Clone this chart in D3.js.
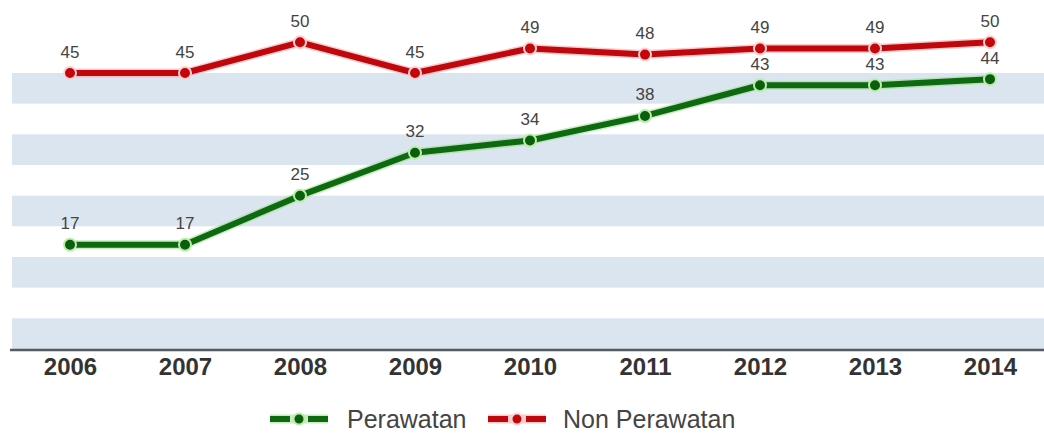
<!DOCTYPE html>
<html>
<head>
<meta charset="utf-8">
<script src="https://cdnjs.cloudflare.com/ajax/libs/d3/7.8.5/d3.min.js"></script>
<style>
  html, body { margin: 0; padding: 0; background: #ffffff; }
  svg { display: block; font-family: "Liberation Sans", Arial, sans-serif; }
</style>
</head>
<body>
<svg id="chart" width="1044" height="434"></svg>
<script>
// Years on the horizontal axis
const years = ["2006", "2007", "2008", "2009", "2010", "2011", "2012", "2013", "2014"];
// Series values
const perawatan = [17, 17, 25, 32, 34, 38, 43, 43, 44];
const nonPerawatan = [45, 45, 50, 45, 49, 48, 49, 49, 50];
// Shaded horizontal bands (value ranges)
const bandRanges = [[0, 5], [10, 15], [20, 25], [30, 35], [40, 45]];

const series = [
  { name: "Perawatan", values: perawatan, line: "#0d6a10", glow: "#9fdc8c", dot: "#0b5e0e", ring: "#b8eea8" },
  { name: "Non Perawatan", values: nonPerawatan, line: "#c0070d", glow: "#f3a0a0", dot: "#c3060c", ring: "#ffd0d0" }
];

const svg = d3.select("#chart");
const plotLeft = 12, plotRight = 1044;

const x = d3.scalePoint().domain(years).range([70, 990]);
const y = d3.scaleLinear().domain([0, 45]).range([349, 73]);

// background bands
svg.append("g").selectAll("rect").data(bandRanges).join("rect")
  .attr("x", plotLeft)
  .attr("width", plotRight - plotLeft)
  .attr("y", d => y(d[1]))
  .attr("height", d => y(d[0]) - y(d[1]))
  .attr("fill", "#dbe5f0");

// x axis
const xAxis = svg.append("g")
  .attr("transform", `translate(0, ${y(0) + 1})`)
  .call(d3.axisBottom(x).tickSize(0).tickPadding(8));
xAxis.select(".domain").remove();
xAxis.append("line")
  .attr("x1", 10).attr("x2", 1044)
  .attr("y1", 0).attr("y2", 0)
  .attr("stroke", "#555a60").attr("stroke-width", 2.5);
xAxis.selectAll(".tick text")
  .attr("font-size", 24).attr("font-weight", "bold")
  .attr("fill", "#333333")
  .attr("font-family", "Liberation Sans, Arial, sans-serif");

const line = d3.line().x((d, i) => x(years[i])).y(d => y(d));

series.forEach(s => {
  const g = svg.append("g");
  g.append("path").datum(s.values)
    .attr("d", line).attr("fill", "none")
    .attr("stroke", s.glow).attr("stroke-width", 9).attr("stroke-opacity", 0.55)
    .attr("stroke-linejoin", "round");
  g.append("path").datum(s.values)
    .attr("d", line).attr("fill", "none")
    .attr("stroke", s.line).attr("stroke-width", 6)
    .attr("stroke-linejoin", "round");
  g.selectAll("circle").data(s.values).join("circle")
    .attr("cx", (d, i) => x(years[i]))
    .attr("cy", d => y(d))
    .attr("r", 6)
    .attr("fill", s.dot)
    .attr("stroke", s.ring).attr("stroke-width", 2);
  g.selectAll("text").data(s.values).join("text")
    .attr("x", (d, i) => x(years[i]))
    .attr("y", d => y(d) - 21)
    .attr("text-anchor", "middle")
    .attr("dominant-baseline", "central")
    .attr("font-size", 17)
    .attr("fill", "#444444")
    .text(d => d);
});

// legend
const legend = svg.append("g").attr("transform", "translate(0, 419)");
const legendItems = [
  { s: series[0], x0: 270, tx: 347 },
  { s: series[1], x0: 488, tx: 563 }
];
legendItems.forEach(it => {
  const g = legend.append("g").attr("transform", `translate(${it.x0}, 0)`);
  g.append("line").attr("x1", 0).attr("x2", 58).attr("y1", 0).attr("y2", 0)
    .attr("stroke", it.s.glow).attr("stroke-width", 9).attr("stroke-opacity", 0.55);
  g.append("line").attr("x1", 0).attr("x2", 58).attr("y1", 0).attr("y2", 0)
    .attr("stroke", it.s.line).attr("stroke-width", 6)
    .attr("stroke-dasharray", "20 5 8 5 20");
  g.append("circle").attr("cx", 29).attr("cy", 0).attr("r", 5.5)
    .attr("fill", it.s.dot).attr("stroke", it.s.ring).attr("stroke-width", 2);
  legend.append("text")
    .attr("x", it.tx).attr("y", 0)
    .attr("dominant-baseline", "central")
    .attr("font-size", 25)
    .attr("fill", "#444444")
    .text(it.s.name);
});
</script>
</body>
</html>
